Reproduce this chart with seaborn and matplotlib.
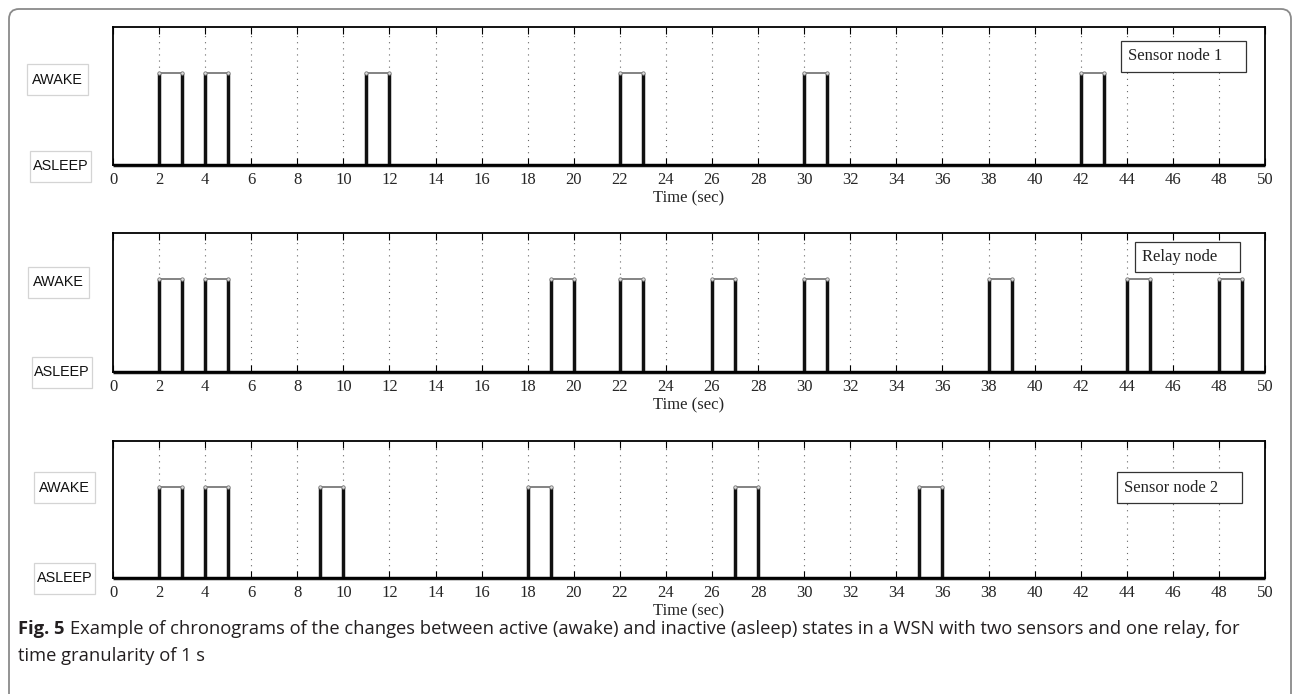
import numpy as np
import pandas as pd
import matplotlib
matplotlib.use("Agg")
import matplotlib.pyplot as plt
from matplotlib.patches import FancyBboxPatch, Rectangle
from matplotlib.transforms import IdentityTransform
import seaborn as sns

# ---- data: awake intervals (seconds) for each node ----
node_names = ["Sensor node 1", "Relay node", "Sensor node 2"]
sensor1_start = [2, 4, 11, 22, 30, 42]
sensor1_end = [3, 5, 12, 23, 31, 43]
relay_start = [2, 4, 19, 22, 26, 30, 38, 44, 48]
relay_end = [3, 5, 20, 23, 27, 31, 39, 45, 49]
sensor2_start = [2, 4, 9, 18, 27, 35]
sensor2_end = [3, 5, 10, 19, 28, 36]
state_labels = ["ASLEEP", "AWAKE"]
x_ticks = list(range(0, 51, 2))
t_min, t_max = 0, 50

starts = [sensor1_start, relay_start, sensor2_start]
ends = [sensor1_end, relay_end, sensor2_end]

sns.set_theme(style="white")
plt.rcParams["font.family"] = ["Liberation Serif", "DejaVu Serif"]
plt.rcParams["axes.edgecolor"] = "black"

W, H = 1292, 694
fig = plt.figure(figsize=(W / 100, H / 100), dpi=100)


def fx(px):
    return px / W


def fy(py):
    return 1 - py / H


def segments(st, en):
    rows = []
    rows += [(0, t_min, 0, "edge"), (0, t_max, 0, "edge")]
    k = 1
    for s, e in zip(st, en):
        for pts, kind in (([(s, 0), (s, 1)], "edge"),
                          ([(e, 1), (e, 0)], "edge"),
                          ([(s, 1), (e, 1)], "top")):
            for t, v in pts:
                rows.append((k, t, v, kind))
            k += 1
    return pd.DataFrame(rows, columns=["seg", "t", "state", "kind"])


# axes geometry in pixels: (left, top, right, bottom)
panels = [(113, 27, 1265, 165), (113, 233, 1265, 372), (113, 441, 1265, 578)]
# label box centers (awake, asleep)
awake_box = [(57.5, 79.5), (58.5, 282.5), (64, 487.5)]
asleep_box = [(60.5, 166), (62, 372), (64.5, 578)]
name_box = [(1121, 41, 1246, 72), (1135, 242, 1240, 272), (1117, 472, 1242, 503)]

for i, (l, t, r, b) in enumerate(panels):
    ax = fig.add_axes([fx(l), fy(b), fx(r) - fx(l), fy(t) - fy(b)])
    df = segments(starts[i], ends[i])
    sns.lineplot(data=df, x="t", y="state", units="seg", estimator=None,
                 sort=False, hue="kind", size="kind",
                 palette={"edge": "#111111", "top": "#7a7a7a"},
                 sizes={"edge": 2.5, "top": 1.3}, legend=False, ax=ax)
    for ln in ax.lines:
        ln.set_clip_on(False)
        ln.set_solid_capstyle("butt")
    corners = pd.DataFrame({"t": list(starts[i]) + list(ends[i]),
                            "state": [1] * (2 * len(starts[i]))})
    sns.scatterplot(data=corners, x="t", y="state", s=6, color="#dddddd",
                    edgecolor="#777777", linewidth=0.6, ax=ax, zorder=5,
                    clip_on=False)
    ax.set_xlim(t_min, t_max)
    ax.set_ylim(0, 1.5)
    ax.set_xticks(x_ticks)
    ax.set_yticks([])
    ax.set_ylabel("")
    ax.set_xlabel("Time (sec)", fontsize=12, labelpad=1.5)
    ax.tick_params(axis="x", direction="in", length=5, width=0.8, top=True,
                   bottom=True, labelsize=12, pad=5, color="black")
    for xv in x_ticks[1:-1]:
        ax.axvline(xv, color="#666666", lw=0.8, linestyle=(0, (1, 4.5)),
                   zorder=0)
    for sp in ax.spines.values():
        sp.set_linewidth(1.3)
        sp.set_color("black")
        sp.set_visible(True)

    # node name box
    x0, y0, x1, y1 = name_box[i]
    fig.patches.append(Rectangle((fx(x0), fy(y1)), fx(x1) - fx(x0),
                                 fy(y0) - fy(y1), transform=fig.transFigure,
                                 facecolor="white", edgecolor="#333333",
                                 lw=0.9, zorder=3))
    fig.text(fx(x0 + 7), fy((y0 + y1) / 2), node_names[i], fontsize=12,
             ha="left", va="center", color="#222222", zorder=4)

    # state label boxes
    for (cx, cy), lab in ((awake_box[i], state_labels[1]),
                          (asleep_box[i], state_labels[0])):
        bw, bh = 61, 31
        fig.patches.append(Rectangle((fx(cx - bw / 2), fy(cy + bh / 2)),
                                     fx(bw), bh / H, transform=fig.transFigure,
                                     facecolor="white", edgecolor="#d4d4d4",
                                     lw=0.9))
        fig.text(fx(cx), fy(cy), lab, fontsize=10.4, ha="center",
                 va="center", family=["Liberation Sans", "DejaVu Sans"],
                 color="#111111")

# outer frame with rounded corners (continues below the image edge)
frame = FancyBboxPatch((9, -30), 1282, 694 - 9 + 30,
                       boxstyle="round,pad=0,rounding_size=10",
                       transform=IdentityTransform(), facecolor="none",
                       edgecolor="#8a8a8a", lw=1.3)
fig.patches.append(frame)

# caption
cap_font = ["Open Sans", "DejaVu Sans"]
cap_color = "#231f20"
cap_size = 13.2
fig.canvas.draw()
renderer = fig.canvas.get_renderer()
t1 = fig.text(fx(18), fy(629), "Fig. 5", fontsize=cap_size, fontweight="bold",
              family=cap_font, color=cap_color, va="center", ha="left")
bb = t1.get_window_extent(renderer=renderer)
fig.text((bb.x1 + 5) / W, fy(629),
         "Example of chronograms of the changes between active (awake) and "
         "inactive (asleep) states in a WSN with two sensors and one relay, for",
         fontsize=cap_size, family=cap_font, color=cap_color, va="center",
         ha="left")
fig.text(fx(18), fy(656), "time granularity of 1 s", fontsize=cap_size,
         family=cap_font, color=cap_color, va="center", ha="left")

fig.savefig("out.png", dpi=100)
